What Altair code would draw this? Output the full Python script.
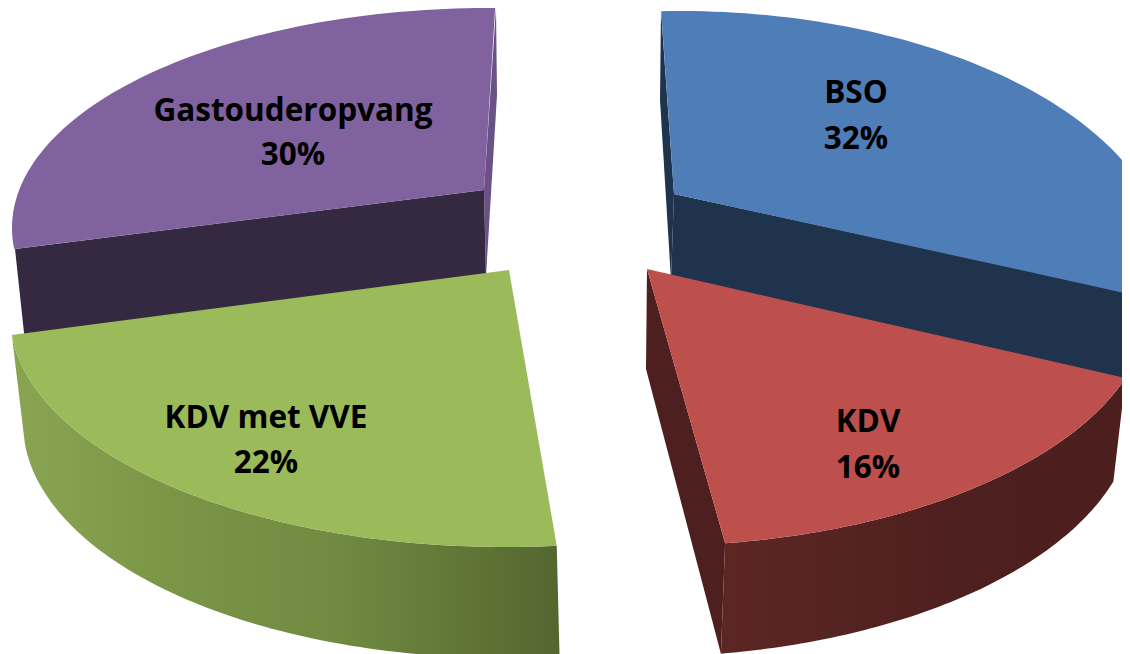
import math
import altair as alt
import pandas as pd

# chart values
names = ["BSO", "KDV", "KDV met VVE", "Gastouderopvang"]
shares = [32, 16, 22, 30]
label_x = [856, 868, 266, 293]
label_y = [92, 421, 417, 110]
share_y = [138, 467, 462, 154]

# projection of each exploded slice: apex and tilted ellipse of the top and bottom rims
TOP = {
    "BSO": dict(a=(674, 194), c=(680, 273), r=(490, 262), start=-2.2, stretch=0.856),
    "KDV": dict(a=(647, 269), c=(650, 303), r=(500, 243), start=108.0, stretch=1.10),
    "KDV met VVE": dict(a=(509, 270), c=(505, 315), r=(495, 232), start=174.0, stretch=1.15),
    "Gastouderopvang": dict(a=(484, 190), c=(490, 228), r=(478, 220), start=264.5, stretch=0.89),
}
BOTTOM = {
    "KDV": dict(a=(646, 369), c=(640, 409), r=(495, 248), start=107.0, stretch=1.104),
    "KDV met VVE": dict(a=(510, 350), c=(505, 423), r=(482, 235), start=173.5, stretch=1.155),
}


def rim(c, r, start, sweep, n=80):
    pts = []
    for i in range(n + 1):
        t = math.radians(start + sweep * i / n)
        pts.append((c[0] + r[0] * math.sin(t), c[1] - r[1] * math.cos(t)))
    return pts


def top_rim(name):
    p = TOP[name]
    return rim(p["c"], p["r"], p["start"], shares[names.index(name)] * 3.6 * p["stretch"])


def bottom_rim(name):
    p = BOTTOM[name]
    return rim(p["c"], p["r"], p["start"], shares[names.index(name)] * 3.6 * p["stretch"])


X = alt.X("x:Q", scale=alt.Scale(domain=[8, 1122]), axis=None)
Y = alt.Y("y:Q", scale=alt.Scale(domain=[654, 8]), axis=None)


def poly(points, fill):
    df = pd.DataFrame(points, columns=["x", "y"])
    df["o"] = range(len(df))
    return (
        alt.Chart(df)
        .mark_line(interpolate="linear-closed", fill=fill, filled=True, stroke=None, clip=True, strokeWidth=0)
        .encode(x=X, y=Y, order="o:Q")
    )


def hgrad(stops):
    return alt.LinearGradient(
        gradient="linear", x1=0, x2=1, y1=0, y2=0,
        stops=[alt.GradientStop(offset=o, color=c) for o, c in stops],
    )


layers = []

# Gastouderopvang
g = "Gastouderopvang"
layers.append(poly([(496, 8), (497, 95), (486, 276), (484, 190)], "#6a5187"))
layers.append(poly([(15, 249), (484, 190), (486, 278), (25, 342)], "#352942"))
layers.append(poly([TOP[g]["a"]] + top_rim(g), "#7f629e"))

# BSO
b = "BSO"
layers.append(poly([(661, 11), (660, 100), (671, 280), (674, 194)], "#1f334c"))
layers.append(poly([(674, 194), (1140, 295), (1124, 383), (671, 280)], "#1f334c"))
layers.append(poly([TOP[b]["a"]] + top_rim(b), "#4e7db8"))

# KDV
k = "KDV"
layers.append(poly([TOP[k]["a"], top_rim(k)[-1], bottom_rim(k)[-1], BOTTOM[k]["a"]], "#4d1f1e"))
layers.append(poly(top_rim(k) + bottom_rim(k)[::-1],
                   hgrad([(0, "#5c2624"), (0.3, "#552321"), (0.6, "#4d1f1e"), (1, "#4c1f1e")])))
layers.append(poly([TOP[k]["a"]] + top_rim(k), "#bd504d"))

# KDV met VVE
v = "KDV met VVE"
layers.append(poly(top_rim(v) + bottom_rim(v)[::-1],
                   hgrad([(0, "#8aa552"), (0.25, "#7c9747"), (0.6, "#708a41"), (1, "#54662f")])))
layers.append(poly([TOP[v]["a"]] + top_rim(v), "#9bba59"))

# labels
rows = []
for n, s, x, y, y2 in zip(names, shares, label_x, label_y, share_y):
    rows.append({"x": x, "y": y, "t": n})
    rows.append({"x": x, "y": y2, "t": f"{s}%"})
labels = (
    alt.Chart(pd.DataFrame(rows))
    .mark_text(font="Open Sans", fontWeight="bold", fontSize=31.5, color="#000000",
               align="center", baseline="middle", dy=2)
    .encode(x=X, y=Y, text="t:N")
)
layers.append(labels)

chart = (
    alt.layer(*layers)
    .properties(width=1114, height=646, padding=0)
    .configure_view(stroke=None)
)
chart.save("out.html", embed_options={"renderer": "svg", "actions": False})
